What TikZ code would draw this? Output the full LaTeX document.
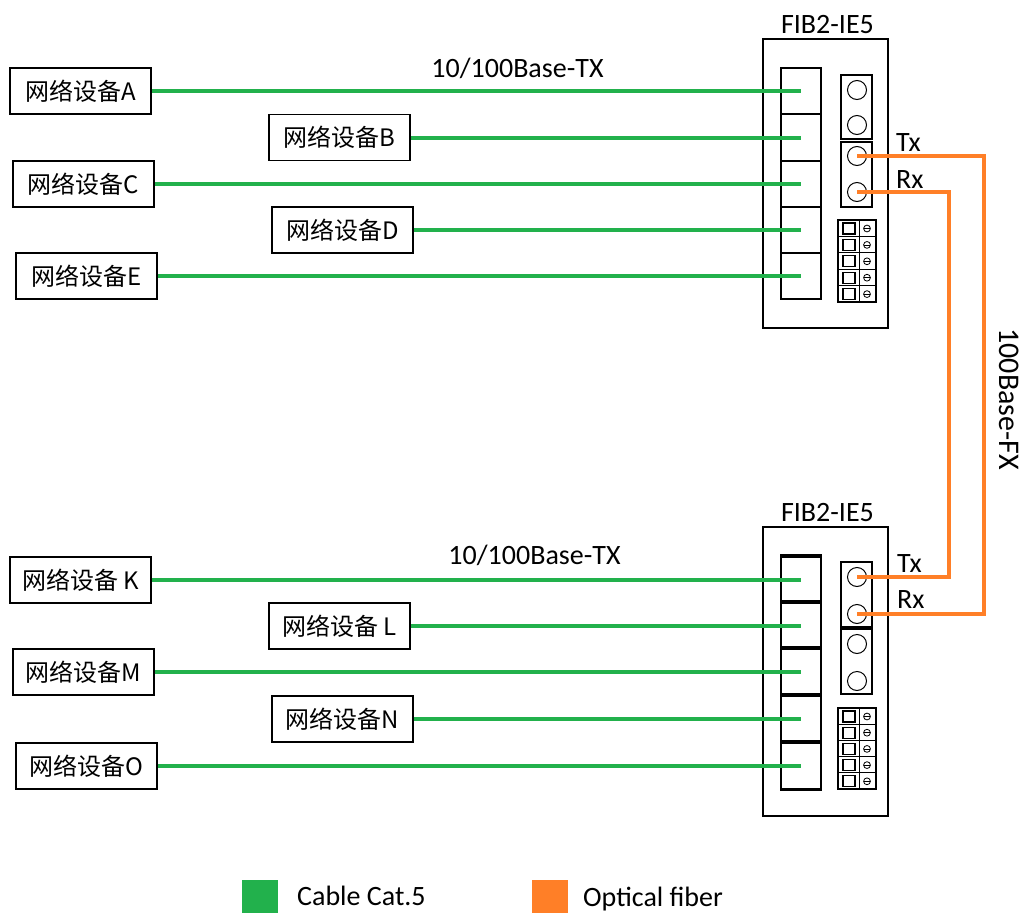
\documentclass[tikz,border=0pt]{standalone}
\usepackage{fontspec}
\setmainfont{Carlito}
\newfontfamily\cjk{Noto Sans CJK SC}
\definecolor{cabgreen}{HTML}{22B14C}
\definecolor{fiborange}{HTML}{FF7F27}
\begin{document}
\begin{tikzpicture}[x=1pt,y=-1pt,
  devbox/.style={draw,line width=1.5pt,minimum width=141pt,minimum height=46pt,inner sep=0pt,font=\cjk\fontsize{24}{26}\selectfont},
  portbox/.style={draw,line width=1.6pt,minimum width=40pt,minimum height=46pt,inner sep=0pt},
  lbl/.style={inner sep=0pt,font=\fontsize{28}{30}\selectfont},
  cat/.style={cabgreen,line width=4pt},
  fib/.style={fiborange,line width=4pt},
  jack/.style={circle,draw,line width=1pt,minimum size=19pt,inner sep=0pt},
  outerbox/.style={draw,line width=1.8pt,inner sep=0pt}]
\useasboundingbox (0,0) rectangle (1021,913);
\fill[white] (0,0) rectangle (1021,913);

% ---------- top device ----------
\node[outerbox,minimum width=125pt,minimum height=289pt] (topdev) at (825.5,183.5) {};
\node[lbl,anchor=base] (toptitle) at (827.5,33) {FIB2-IE5};
\foreach \n/\y in {1/91,2/137.5,3/184,4/230,5/276}{
  \node[portbox,minimum height=46.5pt] (t\n) at (801,\y) {};
}
\node[draw,line width=1.5pt,minimum width=31pt,minimum height=64pt,inner sep=0pt] (tcol1) at (856.5,107) {};
\node[draw,line width=1.5pt,minimum width=31pt,minimum height=65pt,inner sep=0pt] (tcol2) at (856.5,174.5) {};
\node[jack] (tc1) at (857,90) {};
\node[jack] (tc2) at (857,125) {};
\node[jack] (tc3) at (857,156) {};
\node[jack] (tc4) at (857,192) {};
\node[lbl,anchor=base west] (ttx) at (896,151) {Tx};
\node[lbl,anchor=base west] (trx) at (896,188) {Rx};
% terminal block
\draw[line width=1.3pt] (838,220) rectangle (876,302);
\draw[line width=1pt] (859,220) -- (859,302);
\foreach \i in {1,...,4}{\draw[line width=1pt] (838,220+16.4*\i) -- (876,220+16.4*\i);}
\foreach \i in {0,...,4}{
  \draw[line width=1.1pt] (843,223+16.4*\i) rectangle (855,234+16.4*\i);
  \draw[line width=0.8pt] (867,228.5+16.4*\i) circle (3.4pt);
  \draw[line width=0.8pt] (864,228.5+16.4*\i) -- (870,228.5+16.4*\i);
}

% ---------- bottom device ----------
\node[outerbox,minimum width=125pt,minimum height=289pt] (botdev) at (825.5,671.5) {};
\node[lbl,anchor=base] (bottitle) at (827.5,521) {FIB2-IE5};
\foreach \n/\y in {1/580,2/626,3/672,4/719,5/766}{
  \node[portbox] (b\n) at (801,\y) {};
  \draw[line width=3.5pt] (b\n.north west) -- (b\n.north east);
}
\draw[line width=2.5pt] (b5.south west) -- (b5.south east);
\node[draw,line width=1.5pt,minimum width=31pt,minimum height=65pt,inner sep=0pt] (bcol1) at (856.5,594.5) {};
\node[draw,line width=1.5pt,minimum width=31pt,minimum height=65pt,inner sep=0pt] (bcol2) at (856.5,661.5) {};
\node[jack] (bc1) at (857,577) {};
\node[jack] (bc2) at (857,614) {};
\node[jack] (bc3) at (857,644) {};
\node[jack] (bc4) at (857,681) {};
\node[lbl,anchor=base west] (btx) at (897,572) {Tx};
\node[lbl,anchor=base west] (brx) at (897,608) {Rx};
\draw[line width=1.3pt] (838,708) rectangle (876,789);
\draw[line width=1pt] (859,708) -- (859,789);
\foreach \i in {1,...,4}{\draw[line width=1pt] (838,708+16.2*\i) -- (876,708+16.2*\i);}
\foreach \i in {0,...,4}{
  \draw[line width=1.1pt] (843,711+16.2*\i) rectangle (855,722+16.2*\i);
  \draw[line width=0.8pt] (867,716.5+16.2*\i) circle (3.4pt);
  \draw[line width=0.8pt] (864,716.5+16.2*\i) -- (870,716.5+16.2*\i);
}

% ---------- devices ----------
\node[devbox] (devA) at (80.5,91) {网络设备A};
\node[devbox] (devB) at (339.5,137.5) {网络设备B};
\node[devbox] (devC) at (83.5,184) {网络设备C};
\node[devbox] (devD) at (342.5,230) {网络设备D};
\node[devbox] (devE) at (86.5,276) {网络设备E};
\node[devbox] (devK) at (80.5,580) {网络设备 K};
\node[devbox] (devL) at (339.5,626) {网络设备 L};
\node[devbox] (devM) at (83.5,672) {网络设备M};
\node[devbox] (devN) at (342.5,719) {网络设备N};
\node[devbox] (devO) at (86.5,766) {网络设备O};

% ---------- cables ----------
\foreach \d/\p in {A/t1,B/t2,C/t3,D/t4,E/t5,K/b1,L/b2,M/b3,N/b4,O/b5}{
  \draw[cat] (dev\d.east) -- (\p.center);
}
\node[lbl,anchor=base] (toplink) at (517.5,77) {10/100Base-TX};
\node[lbl,anchor=base] (botlink) at (534.5,564) {10/100Base-TX};

% ---------- fibre ----------
\coordinate (fxouter) at (984,400);
\coordinate (fxinner) at (949,400);
\draw[fib,line join=miter] (tc3.center) -- (tc3.center -| fxouter) -- (bc2.center -| fxouter) -- (bc2.center);
\draw[fib,line join=miter] (tc4.center) -- (tc4.center -| fxinner) -- (bc1.center -| fxinner) -- (bc1.center);
\node[lbl,rotate=-90,anchor=base,font=\fontsize{30}{32}\selectfont] (fxlabel) at (999.5,399) {100Base-FX};

% ---------- legend ----------
\fill[cabgreen] (242,880) rectangle (278,913);
\node[lbl,anchor=base west] (leg1) at (297,905) {Cable Cat.5};
\fill[fiborange] (532,880) rectangle (568,913);
\node[lbl,anchor=base west] (leg2) at (583,906.5) {Optical fiber};
\end{tikzpicture}
\end{document}
